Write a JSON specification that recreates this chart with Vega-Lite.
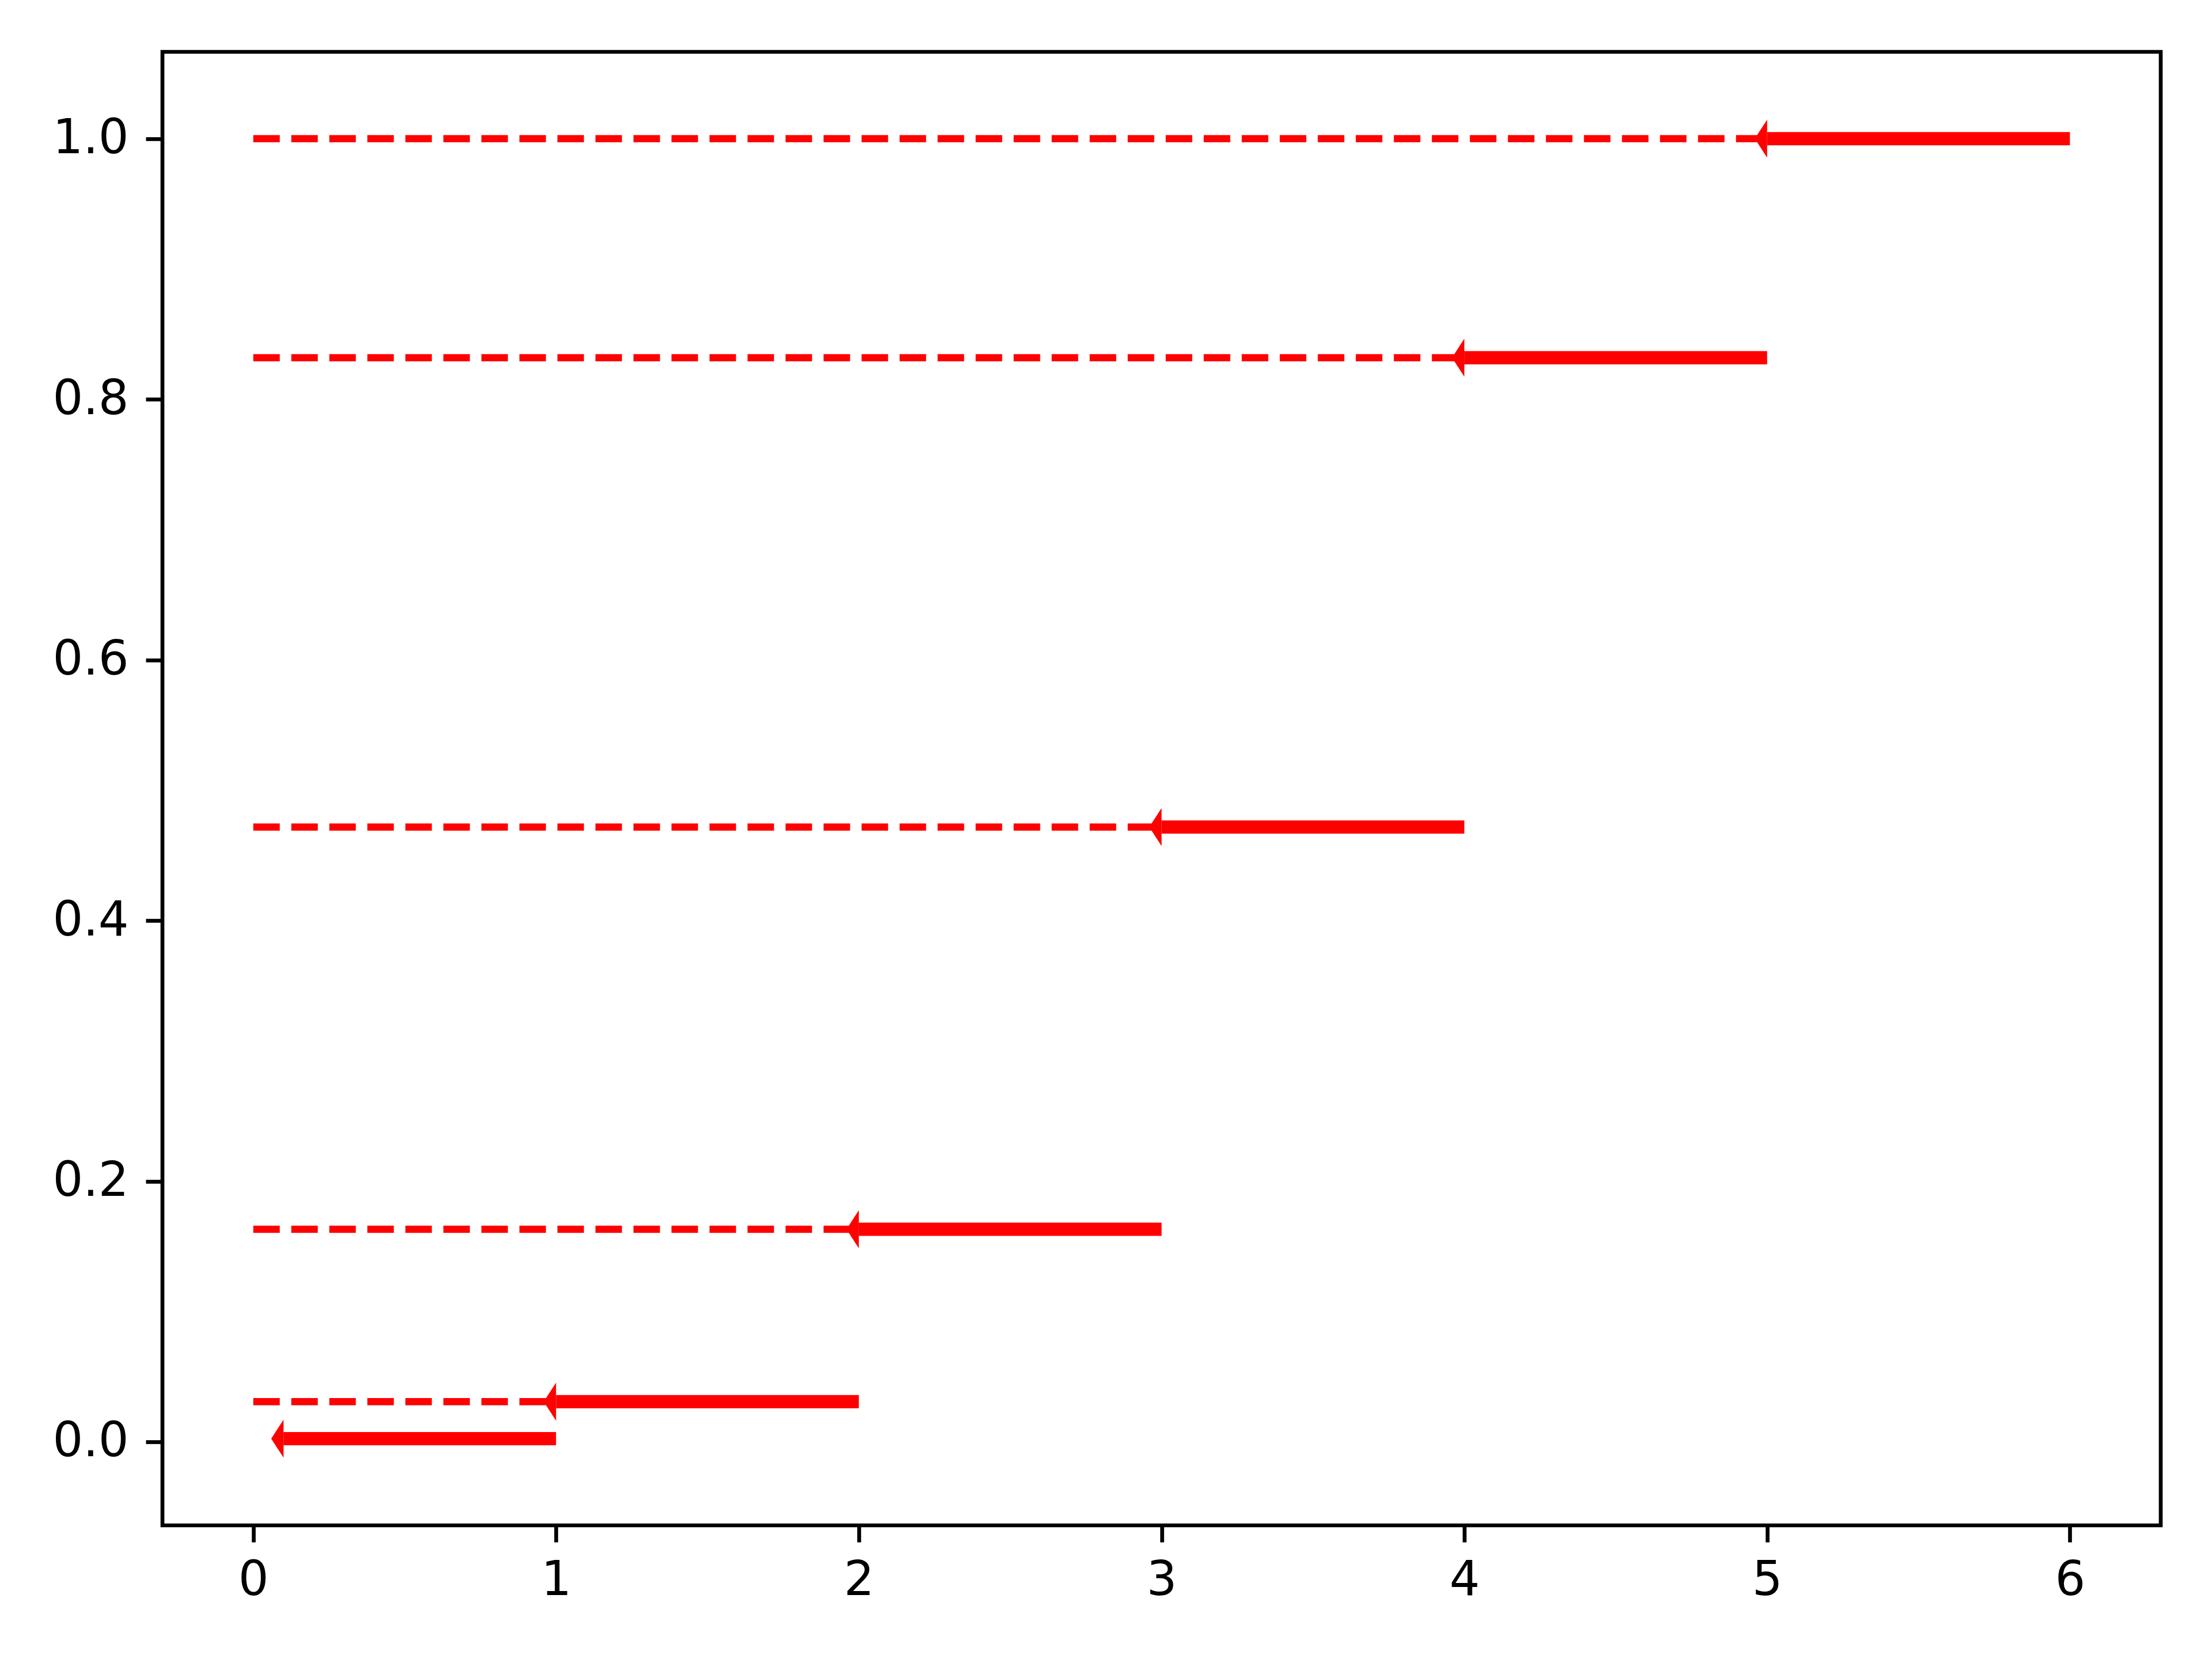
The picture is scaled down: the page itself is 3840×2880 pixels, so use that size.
{
  "$schema": "https://vega.github.io/schema/vega-lite/v6.json",
  "width": 3469,
  "height": 2558,
  "autosize": {"type": "none"},
  "padding": {"left": 282, "top": 90, "right": 89, "bottom": 232},
  "background": "white",
  "config": {
    "view": {"stroke": "black", "strokeWidth": 6.67},
    "axis": {
      "domain": false,
      "grid": false,
      "ticks": true,
      "tickColor": "black",
      "tickWidth": 6.67,
      "tickSize": 29,
      "labelFont": "DejaVu Sans",
      "labelFontSize": 83,
      "labelColor": "black",
      "title": null
    }
  },
  "data": {
    "values": [
      {"k": 0, "origin": 0, "F": 0.00243, "start": 1, "end": 0.1},
      {"k": 1, "origin": 0, "F": 0.03078, "start": 2, "end": 1},
      {"k": 2, "origin": 0, "F": 0.16308, "start": 3, "end": 2},
      {"k": 3, "origin": 0, "F": 0.47178, "start": 4, "end": 3},
      {"k": 4, "origin": 0, "F": 0.83193, "start": 5, "end": 4},
      {"k": 5, "origin": 0, "F": 1.0, "start": 6, "end": 5}
    ]
  },
  "layer": [
    {
      "transform": [{"filter": "datum.k > 0"}],
      "mark": {"type": "rule", "color": "#ff0000", "strokeWidth": 12.5, "strokeDash": [46, 20], "strokeCap": "butt"},
      "encoding": {
        "x": {
          "field": "origin",
          "type": "quantitative",
          "scale": {"domain": [-0.3, 6.3], "nice": false, "zero": false},
          "axis": {"values": [0, 1, 2, 3, 4, 5, 6], "format": "d", "labelPadding": 25}
        },
        "x2": {"field": "k"},
        "y": {
          "field": "F",
          "type": "quantitative",
          "scale": {"domain": [-0.0641, 1.0666], "nice": false, "zero": false},
          "axis": {"values": [0, 0.2, 0.4, 0.6, 0.8, 1.0], "format": ".1f", "labelPadding": 30}
        }
      }
    },
    {
      "mark": {"type": "rule", "color": "#ff0000", "strokeWidth": 23, "strokeCap": "butt"},
      "encoding": {
        "x": {"field": "end", "type": "quantitative"},
        "x2": {"field": "start"},
        "y": {"field": "F", "type": "quantitative"}
      }
    },
    {
      "mark": {
        "type": "point",
        "filled": true,
        "color": "#ff0000",
        "opacity": 1,
        "strokeWidth": 0,
        "size": 4356,
        "shape": "M -0.65 0 L 0 -1 L 0 1 Z"
      },
      "encoding": {
        "x": {"field": "end", "type": "quantitative"},
        "y": {"field": "F", "type": "quantitative"}
      }
    }
  ]
}
